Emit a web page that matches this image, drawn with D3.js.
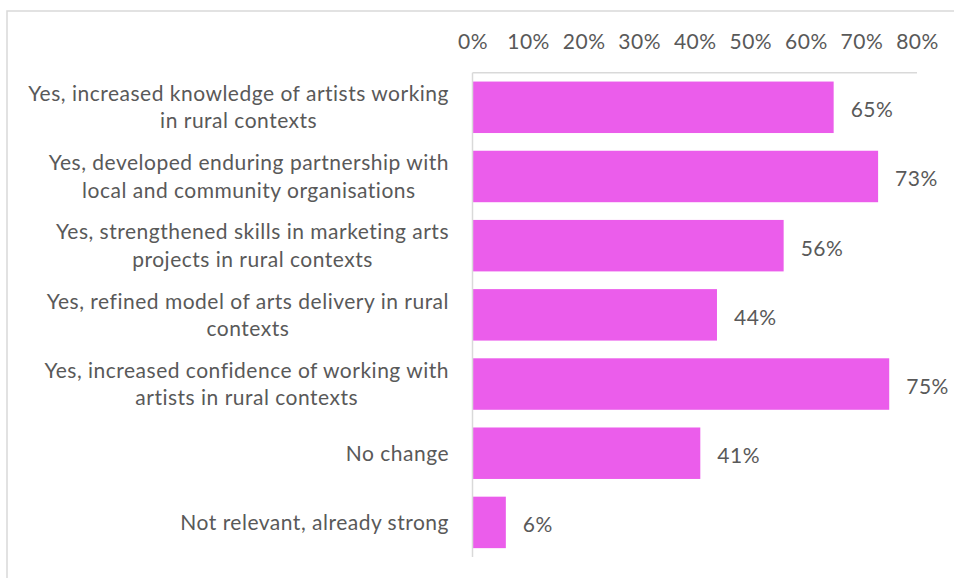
<!DOCTYPE html>
<html>
<head>
<meta charset="utf-8">
<script src="https://cdn.jsdelivr.net/npm/d3@7"></script>
<style>
  html, body { margin: 0; padding: 0; background: #fff; }
  svg { display: block; }
  text { font-family: Lato, "Open Sans", sans-serif; fill: #595959; }
</style>
</head>
<body>
<svg id="chart" width="954" height="578"></svg>
<script>
// Survey responses: share of respondents selecting each outcome
const categories = [
  ["Yes, increased knowledge of artists working", "in rural contexts"],
  ["Yes, developed enduring partnership with", "local and community organisations"],
  ["Yes, strengthened skills in marketing arts", "projects in rural contexts"],
  ["Yes, refined model of arts delivery in rural", "contexts"],
  ["Yes, increased confidence of working with", "artists in rural contexts"],
  ["No change"],
  ["Not relevant, already strong"]
];
const values = [0.65, 0.73, 0.56, 0.44, 0.75, 0.41, 0.06];
const tickValues = [0, 0.1, 0.2, 0.3, 0.4, 0.5, 0.6, 0.7, 0.8];

const svg = d3.select("#chart");
const fontSize = 21;
const spacing = "0.5px";
const barColor = "#EB5DEB";
const lineColor = "#D9D9D9";
const pct = d3.format(".0%");

// Outer frame
svg.append("rect")
  .attr("x", 7).attr("y", 11)
  .attr("width", 960).attr("height", 580)
  .attr("fill", "none").attr("stroke", lineColor).attr("stroke-width", 1.5);

const keys = categories.map((c, i) => i);
const x = d3.scaleLinear().domain([0, 0.8]).range([472.5, 917]);
const y = d3.scaleBand().domain(keys).range([72.7, 557])
  .paddingInner(0.256).paddingOuter(0.128);

// Top value axis (labels only, no tick marks)
const xAxis = d3.axisTop(x).tickValues(tickValues)
  .tickFormat(pct).tickSize(0).tickPadding(0);
const gx = svg.append("g").attr("transform", "translate(0,49)").call(xAxis);
gx.select(".domain").remove();
gx.selectAll("text")
  .attr("font-size", fontSize)
  .attr("dy", "0")
  .style("font-family", "Lato, 'Open Sans', sans-serif")
  .style("letter-spacing", spacing)
  .attr("fill", "#595959");

// Horizontal axis line under the tick labels
svg.append("line")
  .attr("x1", x(0)).attr("x2", x(0.8))
  .attr("y1", y.range()[0]).attr("y2", y.range()[0])
  .attr("stroke", lineColor).attr("stroke-width", 1.5);

// Bars
svg.append("g").selectAll("rect")
  .data(values)
  .join("rect")
  .attr("x", x(0))
  .attr("y", (d, i) => y(i))
  .attr("width", d => x(d) - x(0))
  .attr("height", y.bandwidth())
  .attr("fill", barColor);

// Category axis line
svg.append("line")
  .attr("x1", x(0)).attr("x2", x(0))
  .attr("y1", y.range()[0]).attr("y2", y.range()[1])
  .attr("stroke", lineColor).attr("stroke-width", 1.5);

// Value labels
svg.append("g").selectAll("text")
  .data(values)
  .join("text")
  .attr("x", d => x(d) + 17)
  .attr("y", (d, i) => y(i) + y.bandwidth() / 2 + 10)
  .attr("font-size", fontSize)
  .style("letter-spacing", spacing)
  .text(d => pct(d));

// Category labels, centred multi-line blocks right-aligned to the axis
const lineH = 27.5;
const labelG = svg.append("g");
categories.forEach((lines, i) => {
  const cy = y(i) + y.bandwidth() / 2 + 7.4;
  const t = labelG.append("text")
    .attr("font-size", fontSize)
    .style("letter-spacing", spacing)
    .attr("text-anchor", "middle");
  lines.forEach((ln, j) => {
    t.append("tspan")
      .attr("x", 0)
      .attr("y", cy + (j - (lines.length - 1) / 2) * lineH)
      .text(ln);
  });
  const w = t.node().getBBox().width;
  t.attr("transform", `translate(${449 - w / 2},0)`);
});
</script>
</body>
</html>
